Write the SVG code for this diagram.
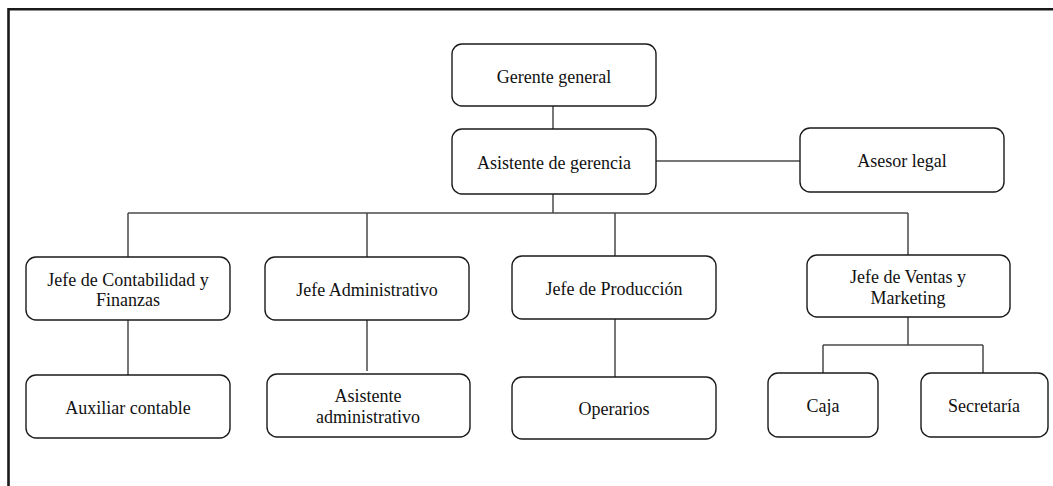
<svg xmlns="http://www.w3.org/2000/svg" width="1053" height="486" viewBox="0 0 1053 486">
<style>
.box{fill:#fff;stroke:#1a1a1a;stroke-width:1.4}
.t{font-family:"Liberation Serif","Times New Roman",serif;font-size:18px;fill:#111;text-anchor:middle}
.c{fill:none;stroke:#4a4a4a;stroke-width:1.5}
.frame{fill:none;stroke:#1a1a1a;stroke-width:2.6}
</style>
<rect width="1053" height="486" fill="#fff"/>
<path class="frame" d="M8.5,486 V9.2 H1053"/>
<g id="connectors">
<path class="c" d="M553,106 V129"/>
<path class="c" d="M553,194 V213"/>
<path class="c" d="M656,161 H800"/>
<path class="c" d="M128,213 H908"/>
<path class="c" d="M128,213 V257 M367,213 V257 M615,213 V256 M908,213 V255"/>
<path class="c" d="M128,320 V375"/>
<path class="c" d="M367,320 V371"/>
<path class="c" d="M615,319 V377"/>
<path class="c" d="M908,317 V345 M823,345 H983 M823,345 V373 M983,345 V373"/>
</g>
<g id="gerente-general"><rect class="box" x="452" y="44" width="204" height="62" rx="10"/><text class="t" x="554" y="82.5">Gerente  general</text></g>
<g id="asistente-gerencia"><rect class="box" x="452" y="129" width="204" height="65" rx="10"/><text class="t" x="554" y="169">Asistente  de gerencia</text></g>
<g id="asesor-legal"><rect class="box" x="800" y="128" width="204" height="64" rx="10"/><text class="t" x="902" y="167">Asesor legal</text></g>
<g id="jefe-contabilidad"><rect class="box" x="26" y="257" width="204" height="63" rx="10"/><text class="t" x="128" y="286">Jefe  de Contabilidad  y</text><text class="t" x="128" y="306">Finanzas</text></g>
<g id="jefe-administrativo"><rect class="box" x="265" y="257" width="204" height="63" rx="10"/><text class="t" x="367" y="296">Jefe Administrativo</text></g>
<g id="jefe-produccion"><rect class="box" x="512" y="256" width="204" height="63" rx="10"/><text class="t" x="614" y="295">Jefe  de Producción</text></g>
<g id="jefe-ventas"><rect class="box" x="807" y="255" width="203" height="62" rx="10"/><text class="t" x="908" y="283">Jefe  de  Ventas  y</text><text class="t" x="908" y="304">Marketing</text></g>
<g id="auxiliar-contable"><rect class="box" x="26" y="375" width="204" height="63" rx="10"/><text class="t" x="128" y="414">Auxiliar  contable</text></g>
<g id="asistente-administrativo"><rect class="box" x="267" y="374" width="203" height="63" rx="10"/><text class="t" x="368" y="401.5">Asistente</text><text class="t" x="368" y="422.5">administrativo</text></g>
<g id="operarios"><rect class="box" x="512" y="377" width="204" height="62" rx="10"/><text class="t" x="614" y="415">Operarios</text></g>
<g id="caja"><rect class="box" x="768" y="373" width="110" height="64" rx="10"/><text class="t" x="823" y="412">Caja</text></g>
<g id="secretaria"><rect class="box" x="921" y="373" width="127" height="64" rx="10"/><text class="t" x="984" y="412">Secretaría</text></g>
</svg>
